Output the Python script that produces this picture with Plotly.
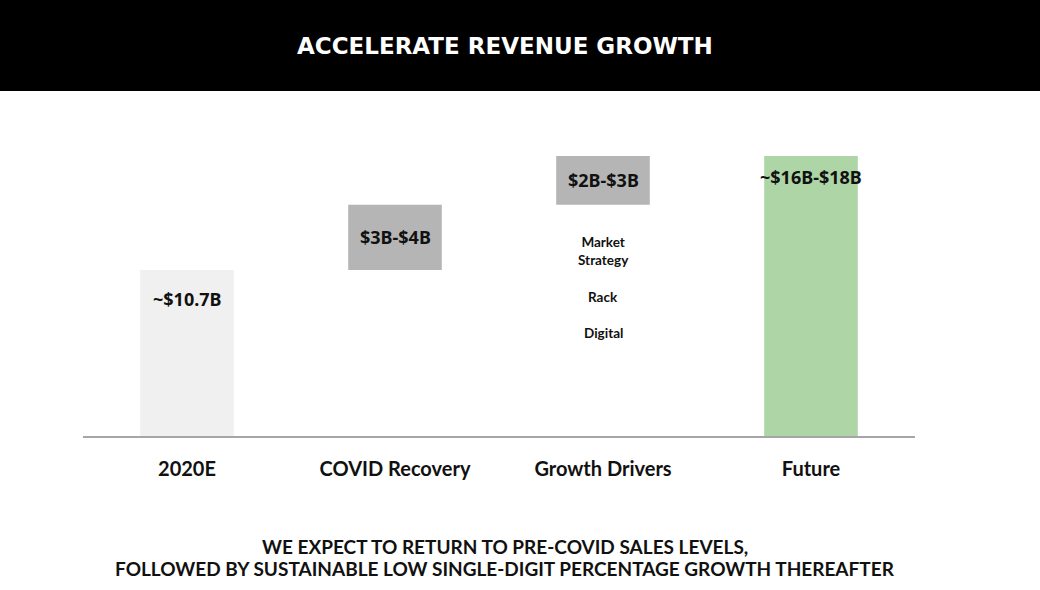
import plotly.graph_objects as go

categories = ["2020E", "COVID Recovery", "Growth Drivers", "Future"]
bar_base = [0, 10.7, 14.9, 0]
bar_value = [10.7, 4.2, 3.15, 18.05]
bar_labels = ["~$10.7B", "$3B-$4B", "$2B-$3B", "~$16B-$18B"]
bar_colors = ["#f0f0f0", "#b5b5b5", "#b5b5b5", "#add5a6"]
drivers = ["Market<br>Strategy", "Rack", "Digital"]
title_text = "ACCELERATE REVENUE GROWTH"
footer_lines = ["WE EXPECT TO RETURN TO PRE-COVID SALES LEVELS,",
                "FOLLOWED BY SUSTAINABLE LOW SINGLE-DIGIT PERCENTAGE GROWTH THEREAFTER"]

W, H = 1040, 590
fig = go.Figure()
fig.add_trace(go.Bar(
    x=categories, y=bar_value, base=bar_base,
    marker=dict(color=bar_colors, line=dict(width=0)),
    width=0.45, hoverinfo="skip", showlegend=False,
))

ann = []
label_font = dict(family="Noto Sans", size=18, color="#111111")
for i, (c, b, v, t) in enumerate(zip(categories, bar_base, bar_value, bar_labels)):
    if b > 0:
        ann.append(dict(x=c, y=b + v / 2, xref="x", yref="y", text="<b>%s</b>" % t,
                        showarrow=False, font=label_font, yanchor="middle"))
    else:
        shift = -15 if i == 0 else -7
        ann.append(dict(x=c, y=b + v, xref="x", yref="y", text="<b>%s</b>" % t,
                        showarrow=False, font=label_font, yanchor="top", yshift=shift))

# driver notes under Growth Drivers bar
driver_pos = [11.95, 8.95, 6.65]
for d, yv in zip(drivers, driver_pos):
    ann.append(dict(x="Growth Drivers", y=yv, xref="x", yref="y", text="<b>%s</b>" % d,
                    showarrow=False, font=dict(family="Lato", size=13.5, color="#111111"),
                    yanchor="middle"))

# title
ann.append(dict(x=505 / W, y=1 - 46 / H, xref="paper", yref="paper", text="<b>%s</b>" % title_text,
                showarrow=False, font=dict(family="DejaVu Sans", size=23, color="white"),
                xanchor="center", yanchor="middle"))
# footer
for line, py in zip(footer_lines, [546, 568]):
    ann.append(dict(x=505 / W, y=1 - py / H, xref="paper", yref="paper", text="<b>%s</b>" % line,
                    showarrow=False, font=dict(family="Lato", size=19, color="#111111"),
                    xanchor="center", yanchor="middle"))

fig.update_layout(
    width=W, height=H,
    margin=dict(l=0, r=0, t=0, b=0),
    paper_bgcolor="white", plot_bgcolor="white",
    xaxis=dict(domain=[83 / W, 915 / W], showline=True, linecolor="#a6a6a6", linewidth=2,
               showgrid=False, zeroline=False, ticks="", ticklabelstandoff=14,
               tickfont=dict(family="Lato", size=20, color="#111111"),
               tickprefix="<b>", ticksuffix="</b>", fixedrange=True),
    yaxis=dict(domain=[154 / H, 1], range=[0, 436 / 15.514], visible=False, fixedrange=True),
    shapes=[dict(type="rect", xref="paper", yref="paper", x0=0, x1=1, y0=1 - 91 / H, y1=1,
                 fillcolor="black", line=dict(width=0), layer="below")],
    annotations=ann,
    bargap=0.55,
)

fig.write_html("out.html", config={"displayModeBar": False},
               post_script="document.body.style.margin='0';document.body.style.overflow='hidden';")
